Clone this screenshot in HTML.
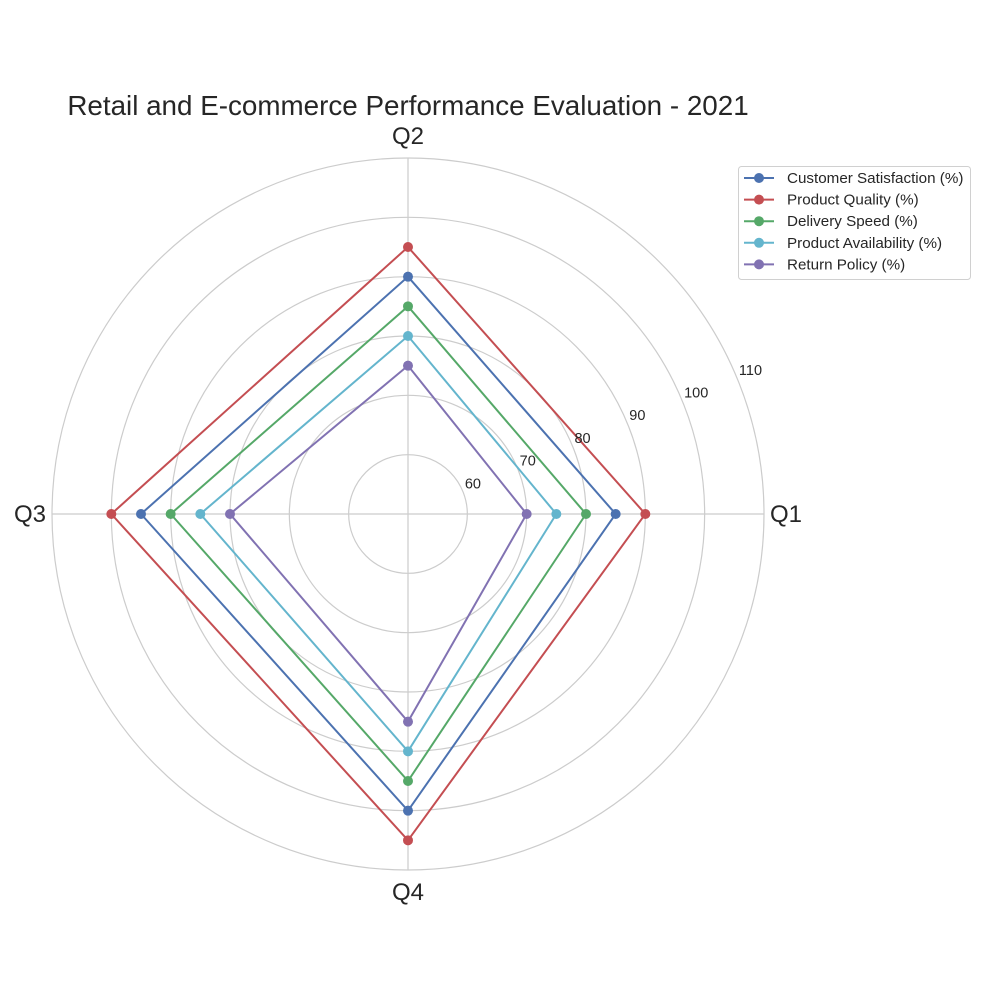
<!DOCTYPE html>
<html><head><meta charset="utf-8"><style>
body{margin:0;background:#fff;}
svg text{font-family:"Liberation Sans",sans-serif;fill:#262626;}
</style></head><body>
<svg id="chart" width="1000" height="1000" viewBox="0 0 1000 1000">
<rect width="1000" height="1000" fill="#fff"/>
<text x="408" y="115" font-size="27.8" text-anchor="middle">Retail and E-commerce Performance Evaluation - 2021</text>
<g id="grid"></g><g id="series"></g><g id="labels"></g>
<g id="legend"></g>
</svg>
<script>
const categories = ["Q1","Q2","Q3","Q4"];
const seriesNames = ["Customer Satisfaction (%)","Product Quality (%)","Delivery Speed (%)","Product Availability (%)","Return Policy (%)"];
const customerSatisfaction = [85,90,95,100];
const productQuality = [90,95,100,105];
const deliverySpeed = [80,85,90,95];
const productAvailability = [75,80,85,90];
const returnPolicy = [70,75,80,85];
const radialTicks = [60,70,80,90,100,110];
const colors = ["#4c72b0","#c44e52","#55a868","#64b5cd","#8172b2"];
const allSeries=[customerSatisfaction,productQuality,deliverySpeed,productAvailability,returnPolicy];
const NS="http://www.w3.org/2000/svg";
const cx=408, cy=514, rMin=50, rMax=110, R=356;
function rad(v){return (v-rMin)/(rMax-rMin)*R;}
function pt(v,i){const a=i*Math.PI/2;return [cx+rad(v)*Math.cos(a), cy-rad(v)*Math.sin(a)];}
function mk(tag,attrs,parent){const e=document.createElementNS(NS,tag);for(const k in attrs)e.setAttribute(k,attrs[k]);parent.appendChild(e);return e;}
const grid=document.getElementById('grid'), ser=document.getElementById('series'), lab=document.getElementById('labels'), leg=document.getElementById('legend');
radialTicks.forEach(t=>{
 const c=mk('circle',{cx:cx,cy:cy,r:rad(t),fill:'none',stroke:'#cccccc','stroke-width':1.2},grid);
 
 
 const a=22.5*Math.PI/180, r=rad(t);
 const tx=mk('text',{x:cx+r*Math.cos(a)+2,y:cy-r*Math.sin(a)-3,'font-size':14.5},lab);
 tx.textContent=t;
 
 
});
categories.forEach((c,i)=>{
 const [x,y]=pt(rMax,i);
 const l=mk('line',{x1:cx,y1:cy,x2:x,y2:y,stroke:'#cccccc','stroke-width':1.2},grid);
 
 
 const a=i*Math.PI/2, rr=R+22;
 const tx=mk('text',{x:cx+rr*Math.cos(a),y:cy-rr*Math.sin(a)+8,'font-size':24,'text-anchor':'middle'},lab);
 tx.textContent=c;
 
 
});
allSeries.forEach((vals,s)=>{
 const pts=vals.map((v,i)=>pt(v,i));
 const poly=mk('polygon',{points:pts.map(p=>p.join(',')).join(' '),fill:'none',stroke:colors[s],'stroke-width':2},ser);
 
 
 pts.forEach((p,i)=>{
  const m=mk('circle',{cx:p[0],cy:p[1],r:5,fill:colors[s]},ser);
  
  
 });
});
const lb=mk('rect',{x:738.5,y:166.5,width:232,height:113,rx:3,fill:'#fff',stroke:'#d0d0d0'},leg);


seriesNames.forEach((n,s)=>{
 const y=178+s*21.6;
 const g=mk('g',{},leg);
 
 
 mk('line',{x1:744,y1:y,x2:774,y2:y,stroke:colors[s],'stroke-width':2},g);
 mk('circle',{cx:759,cy:y,r:5,fill:colors[s]},g);
 const t=mk('text',{x:787,y:y+5,'font-size':15.2},g);
 t.textContent=n;
});
</script>
</body></html>
